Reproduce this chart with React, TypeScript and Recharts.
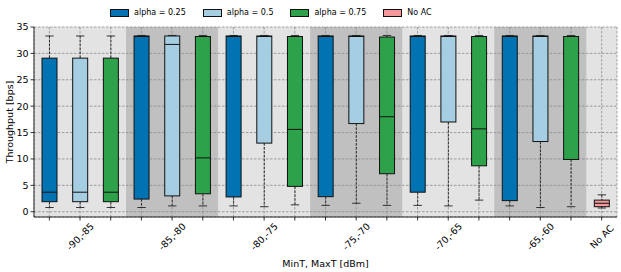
import React from "react";
import {
  Bar,
  CartesianGrid,
  ComposedChart,
  Legend,
  ReferenceArea,
  XAxis,
  YAxis,
} from "recharts";

const groups = ["-90,-85", "-85,-80", "-80,-75", "-75,-70", "-70,-65", "-65,-60"];
const seriesNames = ["alpha = 0.25", "alpha = 0.5", "alpha = 0.75"];
const seriesColors = ["#0173b2", "#a6cee3", "#2ea24a"];

// box stats per group: whisker low, q1, median, q3, whisker high
const lo25 = [0.8, 0.8, 1.1, 1.2, 1.2, 1.1];
const q1of25 = [1.9, 2.4, 2.8, 2.85, 3.7, 2.1];
const med25 = [3.7, 33.2, 33.2, 33.2, 33.2, 33.2];
const q3of25 = [29.1, 33.3, 33.3, 33.3, 33.3, 33.3];
const hi25 = [33.3, 33.4, 33.4, 33.4, 33.4, 33.4];

const lo50 = [0.8, 1.1, 0.95, 1.6, 1.1, 0.8];
const q1of50 = [1.9, 3.0, 13.0, 16.7, 17.0, 13.3];
const med50 = [3.7, 31.7, 33.2, 33.2, 33.2, 33.2];
const q3of50 = [29.1, 33.3, 33.3, 33.3, 33.3, 33.3];
const hi50 = [33.3, 33.4, 33.4, 33.4, 33.4, 33.4];

const lo75 = [0.8, 1.1, 1.3, 1.2, 2.2, 0.95];
const q1of75 = [1.9, 3.4, 4.8, 7.2, 8.7, 9.9];
const med75 = [3.7, 10.2, 15.6, 18.0, 15.7, 33.2];
const q3of75 = [29.1, 33.2, 33.2, 33.1, 33.2, 33.2];
const hi75 = [33.3, 33.4, 33.4, 33.4, 33.4, 33.4];

const noAcLabel = "No AC";
const noAcColor = "#f4999b";
const noAcStats = [0.7, 0.95, 1.6, 2.2, 3.2];

const yTicks = [0, 5, 10, 15, 20, 25, 30, 35];

const FONT = "DejaVu Sans";

const stats = [
  [lo25, q1of25, med25, q3of25, hi25],
  [lo50, q1of50, med50, q3of50, hi50],
  [lo75, q1of75, med75, q3of75, hi75],
];

type Row = {
  key: string;
  label: string;
  showLabel: boolean;
  fill: string;
  box: [number, number];
  lo: number;
  med: number;
  hi: number;
};

const rows: Row[] = [];
groups.forEach((g, gi) => {
  seriesNames.forEach((s, si) => {
    const [lo, q1, med, q3, hi] = stats[si];
    rows.push({
      key: g + "|" + s,
      label: g,
      showLabel: si === 1,
      fill: seriesColors[si],
      box: [q1[gi], q3[gi]],
      lo: lo[gi],
      med: med[gi],
      hi: hi[gi],
    });
  });
});
rows.push({
  key: noAcLabel,
  label: noAcLabel,
  showLabel: true,
  fill: noAcColor,
  box: [noAcStats[1], noAcStats[3]],
  lo: noAcStats[0],
  med: noAcStats[2],
  hi: noAcStats[4],
});

const BoxShape = (props: any) => {
  const { x, y, width, height, payload } = props;
  const top = Math.min(y, y + height);
  const h = Math.abs(height);
  const [q1, q3] = payload.box;
  const ppu = h / (q3 - q1);
  const yOf = (v: number) => top + (q3 - v) * ppu;
  const cx = x + width / 2;
  const cap = width * 0.28;
  const bottom = top + h;
  return (
    <g>
      <line x1={cx} x2={cx} y1={yOf(payload.hi)} y2={top} stroke="#222" strokeWidth={0.9} strokeDasharray="2.6 1.3" />
      <line x1={cx} x2={cx} y1={bottom} y2={yOf(payload.lo)} stroke="#222" strokeWidth={0.9} strokeDasharray="2.6 1.3" />
      <line x1={cx - cap} x2={cx + cap} y1={yOf(payload.hi)} y2={yOf(payload.hi)} stroke="#222" strokeWidth={0.9} />
      <line x1={cx - cap} x2={cx + cap} y1={yOf(payload.lo)} y2={yOf(payload.lo)} stroke="#222" strokeWidth={0.9} />
      <rect x={x} y={top} width={width} height={h} fill={payload.fill} stroke="#111" strokeWidth={1} />
      <line x1={x} x2={x + width} y1={yOf(payload.med)} y2={yOf(payload.med)} stroke="#111" strokeWidth={1} />
    </g>
  );
};

const GroupTick = (props: any) => {
  const { x, y, index } = props;
  const row = rows[index];
  if (!row || !row.showLabel) return <g />;
  const cy = y + 14;
  return (
    <text
      x={x}
      y={cy}
      transform={`rotate(-45 ${x} ${cy})`}
      textAnchor="middle"
      dominantBaseline="central"
      fontSize={9.5}
      fontFamily={FONT}
      fill="#000"
    >
      {row.label}
    </text>
  );
};

const legendItems = [
  ...seriesNames.map((n, i) => ({ name: n, color: seriesColors[i] })),
  { name: noAcLabel, color: noAcColor },
];

const LegendContent = () => (
  <div
    style={{
      display: "flex",
      alignItems: "center",
      height: 21,
      paddingLeft: 110,
      fontFamily: FONT,
      fontSize: 8,
      lineHeight: "14px",
      alignContent: "flex-start",
    }}
  >
    {legendItems.map((it) => (
      <div key={it.name} style={{ display: "flex", alignItems: "center", marginRight: 17, marginTop: -7 }}>
        <span
          style={{
            display: "inline-block",
            width: 17,
            height: 6,
            background: it.color,
            border: "0.8px solid #111",
            marginRight: 5,
          }}
        />
        <span>{it.name}</span>
      </div>
    ))}
  </div>
);

export default function App() {
  const darkGroups = [1, 3, 5];
  return (
    <div style={{ width: 621, height: 272, position: "relative" }}>
      <style>{"body{margin:0}"}</style>
      <ComposedChart
        width={621}
        height={272}
        data={rows}
        margin={{ top: 6, right: 4, left: 0, bottom: 0 }}
        barSize={15}
      >
        <CartesianGrid fill="#e3e3e3" stroke="none" zIndex={-200} />
        {darkGroups.map((gi) => (
          <ReferenceArea
            key={gi}
            x1={rows[gi * 3].key}
            x2={rows[gi * 3 + 2].key}
            y1={-1}
            y2={35}
            fill="#c0c0c0"
            fillOpacity={1}
            stroke="none"
            zIndex={-150}
          />
        ))}
        <CartesianGrid
          stroke="#8a8a8a"
          strokeWidth={0.8}
          strokeDasharray="2.5 1.5"
          zIndex={-100}
        />
        <XAxis
          dataKey="key"
          interval={0}
          height={55}
          tickSize={3.5}
          tickLine={{ stroke: "#000", strokeWidth: 0.8 }}
          axisLine={{ stroke: "#000", strokeWidth: 0.8 }}
          tick={<GroupTick />}
          label={{
            content: (p: any) => {
              const vb = p.viewBox;
              return (
                <text x={vb.x + vb.width / 2} y={267} textAnchor="middle" fontSize={9.5} fontFamily={FONT} fill="#000">
                  MinT, MaxT [dBm]
                </text>
              );
            },
          }}
        />
        <YAxis
          type="number"
          domain={[-1, 35]}
          ticks={yTicks}
          width={34}
          tickSize={3.5}
          tickLine={{ stroke: "#000", strokeWidth: 0.8 }}
          axisLine={{ stroke: "#000", strokeWidth: 0.8 }}
          tick={{ fontSize: 9.5, fontFamily: FONT, fill: "#000" }}
          tickMargin={2}
          label={{
            content: (p: any) => {
              const vb = p.viewBox;
              const cy = vb.y + vb.height / 2;
              return (
                <text
                  x={9.5}
                  y={cy}
                  transform={`rotate(-90 9.5 ${cy})`}
                  textAnchor="middle"
                  dominantBaseline="central"
                  fontSize={9.5}
                  fontFamily={FONT}
                  fill="#000"
                >
                  Throughput [bps]
                </text>
              );
            },
          }}
        />
        <Legend
          verticalAlign="top"
          align="left"
          content={<LegendContent />}
          wrapperStyle={{ top: 6, left: 0, width: 621 }}
        />
        <Bar dataKey="box" isAnimationActive={false} shape={<BoxShape />} />
        <ReferenceArea
          x1={rows[0].key}
          x2={rows[rows.length - 1].key}
          y1={-1}
          y2={35}
          fill="none"
          stroke="#000"
          strokeWidth={0.8}
          zIndex={900}
        />
      </ComposedChart>
    </div>
  );
}
